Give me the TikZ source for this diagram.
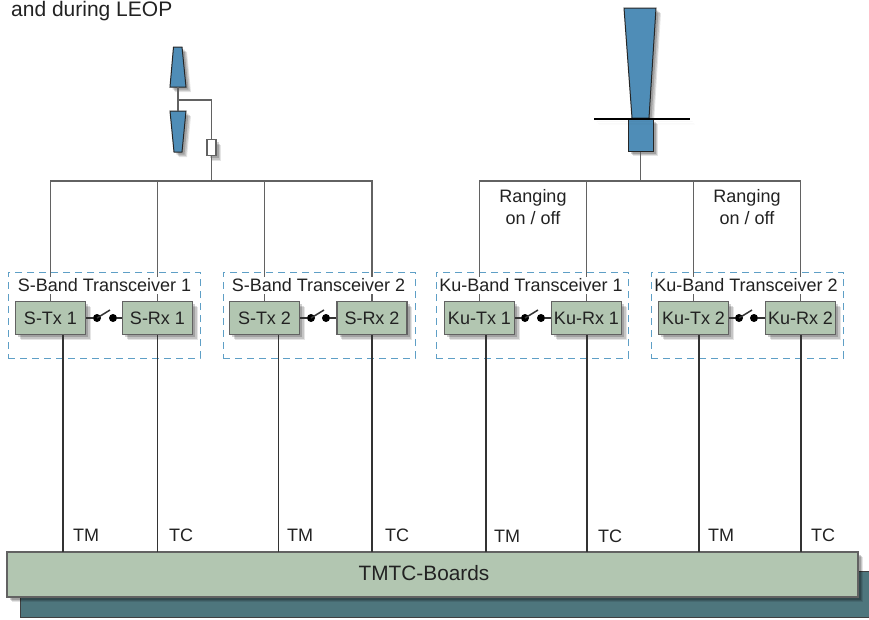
\documentclass[tikz,border=0pt]{standalone}
\usepackage{fontspec}
\setmainfont{Liberation Sans}
\usetikzlibrary{positioning,shadows}

\definecolor{hornblue}{HTML}{4F8DB7}
\definecolor{boxgreen}{HTML}{B2C6B1}
\definecolor{boardteal}{HTML}{4E767D}
\definecolor{feedgray}{HTML}{626262}
\definecolor{groupblue}{HTML}{5E9FC6}
\definecolor{inkgray}{HTML}{222222}

\tikzset{
  softshadow/.style={
    general shadow={fill=black,opacity=.10,shadow xshift=5pt,shadow yshift=-5pt},
    general shadow={fill=black,opacity=.14,shadow xshift=4pt,shadow yshift=-4pt},
    general shadow={fill=black,opacity=.18,shadow xshift=2.5pt,shadow yshift=-2.5pt}},
  unitbox/.style={draw=feedgray,line width=1.8pt,fill=boxgreen,softshadow,
    minimum width=70pt,minimum height=33pt,inner sep=0pt,text=inkgray},
  groupbox/.style={draw=groupblue,line width=.9pt,dash pattern=on 7pt off 5pt,
    minimum width=192pt,minimum height=86pt,inner sep=0pt},
  grouplabel/.style={fill=white,inner sep=0pt,minimum height=17pt,text=inkgray},
  horn/.style={draw=black!85,line width=1pt,fill=hornblue,softshadow},
  feedline/.style={draw=feedgray,line width=1.8pt},
  dataline/.style={draw=black!80,line width=1.5pt},
  contact/.style={circle,fill=black,inner sep=0pt,minimum size=8pt},
  siglabel/.style={text=inkgray}
}

\begin{document}
\begin{tikzpicture}[x=1pt,y=-1pt,font=\fontsize{18}{20}\selectfont]
\useasboundingbox (0,0) rectangle (869,619);

% ---- boards ----------------------------------------------------------------
\node[draw=black!75,line width=1pt,fill=boardteal,minimum width=860pt,
      minimum height=46pt,inner sep=0pt] (boardback) at (450,594) {};
\node[draw=feedgray,line width=1.8pt,fill=boxgreen,softshadow,minimum width=851pt,
      minimum height=45pt,inner sep=0pt] (board) at (432.5,574.5) {};
\node[text=inkgray,font=\fontsize{20.8}{24}\selectfont] (boardlab) at (424,573) {TMTC-Boards};

% ---- antennas --------------------------------------------------------------
\draw[horn] (173.5,47) -- (182,47) -- (186,87) -- (170,87) -- cycle;
\draw[horn] (170,111) -- (186,111) -- (182,152) -- (174,152) -- cycle;
\draw[horn] (624,8) -- (656,8) -- (649,118) -- (632,118) -- cycle;
\node[horn,minimum width=25pt,minimum height=32pt,inner sep=0pt] (kufeed) at (640.5,135) {};
\draw[black,line width=1.3pt,softshadow] (594,119) -- (690,119);
\node[draw=feedgray,line width=1.5pt,fill=white,softshadow,minimum width=9pt,
      minimum height=16pt,inner sep=0pt] (load) at (211.5,147.5) {};

\coordinate (stop) at (178,87);
\coordinate (sbot) at (178,111);
\coordinate (sbranch) at (178,100);
\coordinate (sbus) at (211.5,181);
\coordinate (kubus) at (640.5,181);
\draw[feedline] (stop) -- (sbot);
\draw[feedline] (sbranch) -| (load.north);
\draw[feedline] (load.south) -- (sbus);
\draw[feedline] (kufeed.south) -- (kubus);

% ---- transceivers ----------------------------------------------------------
\foreach \grp/\cx/\tx/\rx/\txlab/\rxlab/\xa/\xb in {
    sa/104/50.5/157.5/S-Tx 1/S-Rx 1/97/113,
    sb/319/264.5/372/S-Tx 2/S-Rx 2/311/326,
    ka/532/479.5/586.5/Ku-Tx 1/Ku-Rx 1/525/541,
    kb/747/693.5/800.5/Ku-Tx 2/Ku-Rx 2/739/754}{
  \node[groupbox] (\grp) at (\cx,315) {};
  \node[unitbox] (\grp tx) at (\tx,318) {\txlab};
  \node[unitbox] (\grp rx) at (\rx,318) {\rxlab};
  \node[contact] (\grp a) at (\xa,318) {};
  \node[contact] (\grp b) at (\xb,318) {};
  \coordinate (\grp blade) at (\xa+13,310);
  \draw[dataline] (\grp tx.east) -- (\grp a);
  \draw[dataline] (\grp a.center) -- (\grp blade);
  \draw[dataline] (\grp b) -- (\grp rx.west);
}

% ---- feed lines down to the boxes ------------------------------------------
\draw[feedline] (satx.north) |- (sbus) -| (sbrx.north);
\draw[feedline] (sarx.north) -- (sarx.north |- sbus);
\draw[feedline] (sbtx.north) -- (sbtx.north |- sbus);
\draw[feedline] (katx.north) |- (kubus) -| (kbrx.north);
\draw[feedline] (karx.north) -- (karx.north |- kubus);
\draw[feedline] (kbtx.north) -- (kbtx.north |- kubus);

% ---- group labels ----------------------------------------------------------
\node[grouplabel] (salab) at (104.5,285.5) {S-Band Transceiver 1};
\node[grouplabel] (sblab) at (318.5,285.5) {S-Band Transceiver 2};
\node[grouplabel] (kalab) at (531,285.5) {Ku-Band Transceiver 1};
\node[grouplabel] (kblab) at (746,285.5) {Ku-Band Transceiver 2};
\node[siglabel,align=center] (rangea) at (533,207) {Ranging\\[1.5pt]on / off};
\node[siglabel,align=center] (rangeb) at (747,207) {Ranging\\[1.5pt]on / off};
\node[siglabel,anchor=base west,inner sep=0pt,font=\fontsize{21}{24}\selectfont]
      (leop) at (11,16) {and during LEOP};

% ---- telemetry and telecommand lines ---------------------------------------
\foreach \grp/\tx/\rx/\tmx/\tcx/\ly in {
    sa/63/157.5/86/181/535,
    sb/278.5/372/300/397/535,
    ka/486/587/507/610/536,
    kb/699/801/721/823/535}{
  \coordinate (\grp tm) at (\tx,552);
  \coordinate (\grp tc) at (\rx,552);
  \draw[dataline] (\grp tm |- \grp tx.south) -- (\grp tm);
  \draw[dataline] (\grp tc |- \grp rx.south) -- (\grp tc);
  \node[siglabel] (\grp tmlab) at (\tmx,\ly) {TM};
  \node[siglabel] (\grp tclab) at (\tcx,\ly) {TC};
}
\end{tikzpicture}
\end{document}
